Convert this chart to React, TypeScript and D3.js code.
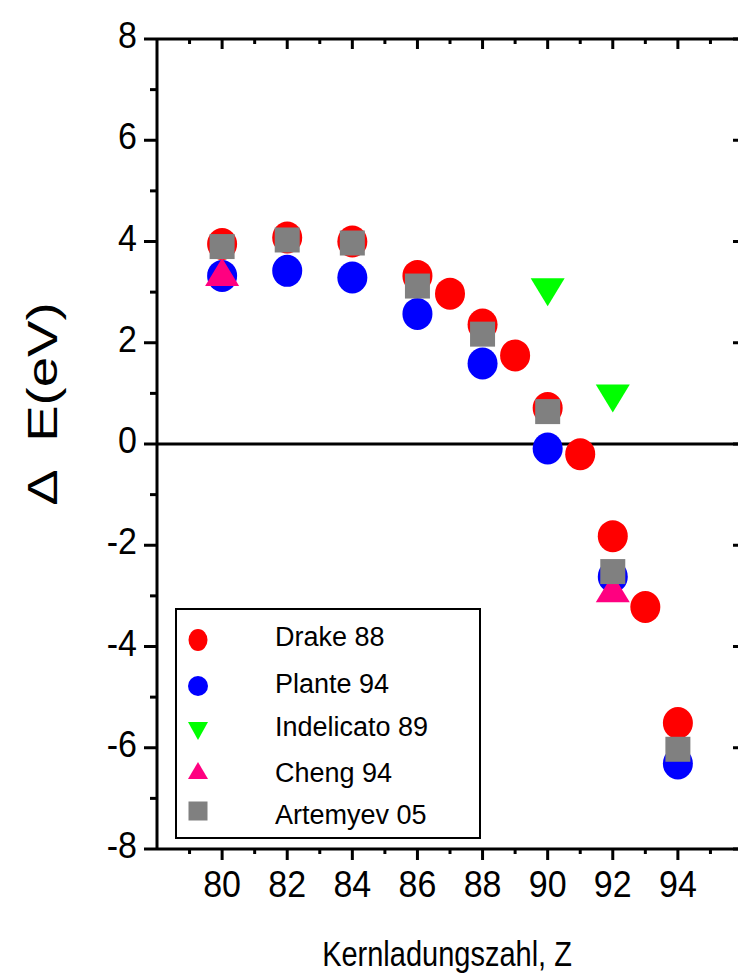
import React, { useEffect, useRef } from 'react';
import * as d3 from 'd3';

// Z values and Delta E (eV)
const drakeZ = [80, 82, 84, 86, 87, 88, 89, 90, 91, 92, 93, 94];
const drakeE = [3.95, 4.08, 4.0, 3.32, 2.97, 2.36, 1.75, 0.71, -0.2, -1.82, -3.22, -5.51];

const planteZ = [80, 82, 84, 86, 88, 90, 92, 94];
const planteE = [3.32, 3.42, 3.29, 2.57, 1.59, -0.09, -2.62, -6.31];

const indelicatoZ = [90, 92];
const indelicatoE = [3.0, 0.9];

const chengZ = [80, 92];
const chengE = [3.4, -2.85];

const artemyevZ = [80, 82, 84, 86, 88, 90, 92, 94];
const artemyevE = [3.9, 4.03, 3.97, 3.12, 2.17, 0.64, -2.52, -6.03];

const xTicks = [80, 82, 84, 86, 88, 90, 92, 94];
const yTicks = [8, 6, 4, 2, 0, -2, -4, -6, -8];
const legendLabels = ['Drake 88', 'Plante 94', 'Indelicato 89', 'Cheng 94', 'Artemyev 05'];

const W = 738;
const H = 976;
const FONT = 'Arial, "Liberation Sans", sans-serif';

export default function App() {
  const svgRef = useRef<SVGSVGElement | null>(null);

  useEffect(() => {
    if (!svgRef.current) return;
    const svg = d3.select(svgRef.current);
    svg.selectAll('*').remove();

    const x = d3.scaleLinear().domain([78, 96]).range([157, 743]);
    const y = d3.scaleLinear().domain([-8, 8]).range([849, 39]);
    const [x0, x1] = x.range();
    const [yb, yt] = y.range();

    svg.append('rect').attr('width', W).attr('height', H).attr('fill', 'white');

    const axes = svg.append('g').attr('stroke', 'black').attr('stroke-width', 3);

    // frame
    axes.append('line').attr('x1', x0).attr('x2', x1).attr('y1', yt).attr('y2', yt);
    axes.append('line').attr('x1', x0).attr('x2', x1).attr('y1', yb).attr('y2', yb);
    axes.append('line').attr('x1', x0).attr('x2', x0).attr('y1', yt).attr('y2', yb);
    axes.append('line').attr('x1', x1).attr('x2', x1).attr('y1', yt).attr('y2', yb);

    // zero line
    axes.append('line').attr('x1', x0).attr('x2', x1).attr('y1', y(0)).attr('y2', y(0));

    // x ticks: bottom outward, top inward
    d3.range(79, 96).forEach(v => {
      const major = v % 2 === 0;
      const px = x(v);
      axes.append('line').attr('x1', px).attr('x2', px).attr('y1', yb).attr('y2', yb + (major ? 11 : 5));
      axes.append('line').attr('x1', px).attr('x2', px).attr('y1', yt).attr('y2', yt + (major ? 10 : 5));
    });

    // y ticks: left outward, right inward
    d3.range(-8, 9).forEach(v => {
      const major = v % 2 === 0;
      const py = y(v);
      axes.append('line').attr('x1', x0).attr('x2', x0 - (major ? 13 : 7)).attr('y1', py).attr('y2', py);
      axes.append('line').attr('x1', x1).attr('x2', x1 - (major ? 10 : 5)).attr('y1', py).attr('y2', py);
    });

    const labels = svg.append('g').attr('font-family', FONT).attr('fill', 'black');

    // the figure's axis texts are a bit taller than they are wide
    labels.selectAll('.xt')
      .data(xTicks)
      .enter()
      .append('text')
      .attr('transform', d => `translate(${x(d)},897) scale(1,1.1)`)
      .attr('text-anchor', 'middle')
      .attr('font-size', 34)
      .text(d => d);

    labels.selectAll('.yt')
      .data(yTicks)
      .enter()
      .append('text')
      .attr('transform', d => `translate(137,${y(d) + 9}) scale(1,1.1)`)
      .attr('text-anchor', 'end')
      .attr('font-size', 34)
      .text(d => d);

    labels.append('text')
      .attr('transform', 'translate(447,966) scale(1,1.2)')
      .attr('text-anchor', 'middle')
      .attr('font-size', 29)
      .text('Kernladungszahl, Z');

    labels.append('text')
      .attr('transform', 'translate(57,404) rotate(-90) scale(1.3,1)')
      .attr('text-anchor', 'middle')
      .attr('font-size', 42)
      .style('white-space', 'pre')
      .text('\u0394  E(eV)');

    // markers
    const circle = (g: any, zs: number[], es: number[], color: string) => {
      g.selectAll(null)
        .data(zs.map((z, i) => [z, es[i]]))
        .enter()
        .append('ellipse')
        .attr('cx', (d: number[]) => x(d[0]))
        .attr('cy', (d: number[]) => y(d[1]))
        .attr('rx', 15)
        .attr('ry', 16)
        .attr('fill', color);
    };
    const tri = (g: any, zs: number[], es: number[], color: string, down: boolean) => {
      const w = 17, h = 28;
      g.selectAll(null)
        .data(zs.map((z, i) => [z, es[i]]))
        .enter()
        .append('path')
        .attr('d', (d: number[]) => {
          const cx = x(d[0]), cy = y(d[1]);
          return down
            ? `M${cx - w},${cy - h / 2}L${cx + w},${cy - h / 2}L${cx},${cy + h / 2}Z`
            : `M${cx - w},${cy + h / 2}L${cx + w},${cy + h / 2}L${cx},${cy - h / 2}Z`;
        })
        .attr('fill', color);
    };

    const marks = svg.append('g');
    circle(marks, drakeZ, drakeE, '#ff0000');
    circle(marks, planteZ, planteE, '#0000ff');
    tri(marks, indelicatoZ, indelicatoE, '#00ff00', true);
    tri(marks, chengZ, chengE, '#ff0080', false);
    marks.selectAll(null)
      .data(artemyevZ.map((z, i) => [z, artemyevE[i]]))
      .enter()
      .append('rect')
      .attr('x', d => x(d[0]) - 12.5)
      .attr('y', d => y(d[1]) - 12.5)
      .attr('width', 25)
      .attr('height', 25)
      .attr('fill', '#808080');

    // legend
    const lg = svg.append('g');
    lg.append('rect')
      .attr('x', 176).attr('y', 609).attr('width', 304).attr('height', 229)
      .attr('fill', 'white').attr('stroke', 'black').attr('stroke-width', 2);

    const rowY = [640, 686, 730, 771, 811];
    const mx = 198;
    lg.append('ellipse').attr('cx', mx).attr('cy', rowY[0]).attr('rx', 9.5).attr('ry', 11).attr('fill', '#ff0000');
    lg.append('circle').attr('cx', mx).attr('cy', rowY[1]).attr('r', 10).attr('fill', '#0000ff');
    lg.append('path')
      .attr('d', `M${mx - 10},${rowY[2] - 8}L${mx + 10},${rowY[2] - 8}L${mx},${rowY[2] + 10}Z`)
      .attr('fill', '#00ff00');
    lg.append('path')
      .attr('d', `M${mx - 10},${rowY[3] + 8}L${mx + 10},${rowY[3] + 8}L${mx},${rowY[3] - 9}Z`)
      .attr('fill', '#ff0080');
    lg.append('rect').attr('x', mx - 9.5).attr('y', rowY[4] - 9.5).attr('width', 19).attr('height', 19).attr('fill', '#808080');

    lg.selectAll('.lt')
      .data(legendLabels)
      .enter()
      .append('text')
      .attr('x', 275)
      .attr('y', (d, i) => [646, 693, 736, 782, 824][i])
      .attr('font-family', FONT)
      .attr('font-size', 27)
      .text(d => d);
  }, []);

  return (
    <svg
      ref={svgRef}
      width={W}
      height={H}
      style={{ position: 'absolute', left: 0, top: 0, display: 'block' }}
    />
  );
}
